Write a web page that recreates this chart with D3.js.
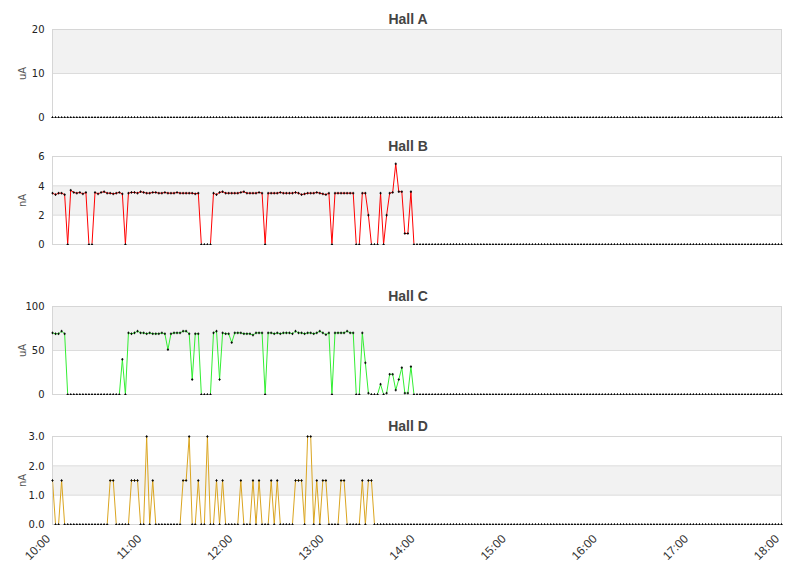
<html>
<head>
<meta charset="utf-8">
<script src="https://d3js.org/d3.v7.min.js"></script>
<style>
  body { margin: 0; background: #fff; }
</style>
</head>
<body>
<script>
// samples every 2 minutes, 10:00 .. 18:00 (one row = one hour)
var startTime = new Date(2000, 0, 1, 10, 0)
var endTime = new Date(2000, 0, 1, 18, 0)
var stepMinutes = 2

var hallA = [
  0,0,0,0,0,0,0,0,0,0,0,0,0,0,0,0,0,0,0,0,0,0,0,0,0,0,0,0,0,0,
  0,0,0,0,0,0,0,0,0,0,0,0,0,0,0,0,0,0,0,0,0,0,0,0,0,0,0,0,0,0,
  0,0,0,0,0,0,0,0,0,0,0,0,0,0,0,0,0,0,0,0,0,0,0,0,0,0,0,0,0,0,
  0,0,0,0,0,0,0,0,0,0,0,0,0,0,0,0,0,0,0,0,0,0,0,0,0,0,0,0,0,0,
  0,0,0,0,0,0,0,0,0,0,0,0,0,0,0,0,0,0,0,0,0,0,0,0,0,0,0,0,0,0,
  0,0,0,0,0,0,0,0,0,0,0,0,0,0,0,0,0,0,0,0,0,0,0,0,0,0,0,0,0,0,
  0,0,0,0,0,0,0,0,0,0,0,0,0,0,0,0,0,0,0,0,0,0,0,0,0,0,0,0,0,0,
  0,0,0,0,0,0,0,0,0,0,0,0,0,0,0,0,0,0,0,0,0,0,0,0,0,0,0,0,0,0,
  0
]
var hallB = [
  3.5,3.4,3.5,3.5,3.4,0,3.7,3.55,3.5,3.55,3.45,3.55,0,0,3.55,3.45,3.55,3.6,3.5,3.5,3.45,3.5,3.55,3.45,0,3.5,3.55,3.55,3.5,3.6,
  3.55,3.5,3.5,3.55,3.55,3.5,3.5,3.55,3.5,3.5,3.5,3.55,3.5,3.5,3.5,3.5,3.5,3.45,3.5,0,0,0,0,3.5,3.4,3.55,3.6,3.5,3.5,3.5,
  3.5,3.5,3.55,3.6,3.5,3.5,3.5,3.5,3.55,3.5,0,3.5,3.5,3.5,3.5,3.55,3.5,3.5,3.5,3.5,3.55,3.5,3.4,3.45,3.5,3.5,3.5,3.55,3.5,3.45,
  3.4,3.5,0,3.5,3.5,3.5,3.5,3.5,3.5,3.5,0,0,3.5,3.5,2.0,0,0,0,3.5,0,2.0,3.5,3.55,5.5,3.6,3.6,0.75,0.75,3.6,0,
  0,0,0,0,0,0,0,0,0,0,0,0,0,0,0,0,0,0,0,0,0,0,0,0,0,0,0,0,0,0,
  0,0,0,0,0,0,0,0,0,0,0,0,0,0,0,0,0,0,0,0,0,0,0,0,0,0,0,0,0,0,
  0,0,0,0,0,0,0,0,0,0,0,0,0,0,0,0,0,0,0,0,0,0,0,0,0,0,0,0,0,0,
  0,0,0,0,0,0,0,0,0,0,0,0,0,0,0,0,0,0,0,0,0,0,0,0,0,0,0,0,0,0,
  0
]
var hallC = [
  70,69,69,72,69,0,0,0,0,0,0,0,0,0,0,0,0,0,0,0,0,0,0,40,0,70,69,70,72,70,
  70,69,70,69,69,69,70,69,51,69,70,70,70,72,72,69,17,69,69,0,0,0,0,70,72,17,70,69,69,59,
  70,70,70,69,69,69,67.5,70,70,70,0,70,70,69,70,69,70,70,70,69,72,70,70,69,70,70,69,70,72,70,
  68,70,0,70,70,70,70,72,70,70,0,0,70,36,1.5,0,0,0,11.7,0,1.5,23,23,5,17,30.5,1.5,1.5,31.7,0,
  0,0,0,0,0,0,0,0,0,0,0,0,0,0,0,0,0,0,0,0,0,0,0,0,0,0,0,0,0,0,
  0,0,0,0,0,0,0,0,0,0,0,0,0,0,0,0,0,0,0,0,0,0,0,0,0,0,0,0,0,0,
  0,0,0,0,0,0,0,0,0,0,0,0,0,0,0,0,0,0,0,0,0,0,0,0,0,0,0,0,0,0,
  0,0,0,0,0,0,0,0,0,0,0,0,0,0,0,0,0,0,0,0,0,0,0,0,0,0,0,0,0,0,
  0
]
var hallD = [
  1.5,0,0,1.5,0,0,0,0,0,0,0,0,0,0,0,0,0,0,0,1.5,1.5,0,0,0,0,0,1.5,1.5,1.5,0,
  0,3,0,1.5,0,0,0,0,0,0,0,0,0,1.5,1.5,3,0,0,1.5,0,0,3,0,0,1.5,0,1.5,0,0,0,
  0,0,1.5,0,0,0,1.5,0,1.5,0,0,0,1.5,0,1.5,0,0,0,0,0,1.5,1.5,1.5,0,3,3,0,1.5,0,1.5,
  1.5,0,0,0,0,1.5,1.5,0,0,0,0,0,1.5,0,1.5,1.5,0,0,0,0,0,0,0,0,0,0,0,0,0,0,
  0,0,0,0,0,0,0,0,0,0,0,0,0,0,0,0,0,0,0,0,0,0,0,0,0,0,0,0,0,0,
  0,0,0,0,0,0,0,0,0,0,0,0,0,0,0,0,0,0,0,0,0,0,0,0,0,0,0,0,0,0,
  0,0,0,0,0,0,0,0,0,0,0,0,0,0,0,0,0,0,0,0,0,0,0,0,0,0,0,0,0,0,
  0,0,0,0,0,0,0,0,0,0,0,0,0,0,0,0,0,0,0,0,0,0,0,0,0,0,0,0,0,0,
  0
]

var titles = ["Hall A", "Hall B", "Hall C", "Hall D"]
var units = ["uA", "nA", "uA", "nA"]
var yTicksA = [0, 10, 20]
var yTicksB = [0, 2, 4, 6]
var yTicksC = [0, 50, 100]
var yTicksD = [0, 1, 2, 3]

// layout
var width = 811
var height = 578
var plotLeft = 52.5
var plotRight = 781.5
var plotHeight = 88
var plotTops = [29.5, 156.5, 306.5, 436.5]
var colors = ["#4572a7", "#ff0000", "#33ee33", "#daa520"]

var series = [hallA, hallB, hallC, hallD]
var yTicks = [yTicksA, yTicksB, yTicksC, yTicksD]
var tickFormats = [d3.format("d"), d3.format("d"), d3.format("d"), d3.format(".1f")]

var svg = d3.select("body")
  .append("svg")
  .attr("width", width)
  .attr("height", height)

var x = d3.scaleTime()
  .domain([startTime, endTime])
  .range([plotLeft, plotRight])

function timeAt(i) {
  return d3.timeMinute.offset(startTime, i * stepMinutes)
}

series.forEach(function(values, k) {
  var top = plotTops[k]
  var bottom = top + plotHeight
  var ticks = yTicks[k]
  var y = d3.scaleLinear()
    .domain([0, ticks[ticks.length - 1]])
    .range([bottom, top])

  var g = svg.append("g")

  // alternating bands
  var bands = []
  for (var i = 1; i < ticks.length - 1; i += 2) bands.push([ticks[i], ticks[i + 1]])
  g.selectAll(".band")
    .data(bands)
    .enter()
    .append("rect")
    .attr("x", plotLeft)
    .attr("width", plotRight - plotLeft)
    .attr("y", function(d) { return y(d[1]) })
    .attr("height", function(d) { return y(d[0]) - y(d[1]) })
    .attr("fill", "#f2f2f2")

  // grid lines
  g.selectAll(".grid")
    .data(ticks)
    .enter()
    .append("line")
    .attr("x1", plotLeft)
    .attr("x2", plotRight)
    .attr("y1", function(d) { return y(d) })
    .attr("y2", function(d) { return y(d) })
    .attr("stroke", "#dcdcdc")

  g.append("rect")
    .attr("x", plotLeft)
    .attr("y", top)
    .attr("width", plotRight - plotLeft)
    .attr("height", plotHeight)
    .attr("fill", "none")
    .attr("stroke", "#d6d6d6")

  // y axis
  var yAxis = g.append("g")
    .attr("transform", "translate(" + plotLeft + ",0)")
    .call(d3.axisLeft(y).tickValues(ticks).tickFormat(tickFormats[k]).tickSize(0).tickPadding(8))
  yAxis.select(".domain").remove()
  yAxis.selectAll("text")
    .attr("font-family", "DejaVu Sans")
    .attr("font-size", 10)
    .attr("fill", "#222")

  g.append("text")
    .attr("transform", "translate(" + 26 + "," + (top + plotHeight / 2) + ") rotate(-90)")
    .attr("text-anchor", "middle")
    .attr("font-family", "DejaVu Sans")
    .attr("font-size", 10)
    .attr("fill", "#555")
    .text(units[k])

  g.append("text")
    .attr("x", 408)
    .attr("y", top - 6)
    .attr("text-anchor", "middle")
    .attr("font-family", "Liberation Sans")
    .attr("font-weight", "bold")
    .attr("font-size", 14)
    .attr("fill", "#444")
    .text(titles[k])

  // line, clipped so the zero level hides under the border
  var clipId = "clip" + k
  svg.append("clipPath")
    .attr("id", clipId)
    .append("rect")
    .attr("x", plotLeft)
    .attr("y", top)
    .attr("width", plotRight - plotLeft)
    .attr("height", plotHeight - 1)

  var markClip = "mclip" + k
  svg.append("clipPath")
    .attr("id", markClip)
    .append("rect")
    .attr("x", plotLeft - 2)
    .attr("y", top - 2)
    .attr("width", plotRight - plotLeft + 4)
    .attr("height", plotHeight + 2.5)

  var line = d3.line()
    .x(function(d, i) { return x(timeAt(i)) })
    .y(function(d) { return y(d) })

  g.append("path")
    .datum(values)
    .attr("clip-path", "url(#" + clipId + ")")
    .attr("fill", "none")
    .attr("stroke", colors[k])
    .attr("stroke-width", 1)
    .attr("d", line)

  // markers
  g.append("g")
    .attr("clip-path", "url(#" + markClip + ")")
    .selectAll(".pt")
    .data(values)
    .enter()
    .append("path")
    .attr("d", function(d, i) {
      var px = x(timeAt(i)), py = y(d)
      return "M" + (px - 1.1) + "," + py + "H" + (px + 1.1) + "M" + px + "," + (py - 1.3) + "V" + (py + 1.3)
    })
    .attr("stroke", "#000")
    .attr("stroke-width", 0.9)
    .attr("fill", "none")
})

// x axis under the last panel
var xAxis = svg.append("g")
  .attr("transform", "translate(0," + (plotTops[3] + plotHeight) + ")")
  .call(d3.axisBottom(x).ticks(d3.timeHour.every(1)).tickFormat(d3.timeFormat("%H:%M")).tickSize(0))
xAxis.select(".domain").remove()
xAxis.selectAll("text")
  .attr("x", 0)
  .attr("y", 0)
  .attr("dy", 0)
  .attr("transform", "translate(-2,15) rotate(-45)")
  .attr("text-anchor", "end")
  .attr("font-family", "Liberation Sans")
  .attr("font-size", 12)
  .attr("fill", "#333")
</script>
</body>
</html>
